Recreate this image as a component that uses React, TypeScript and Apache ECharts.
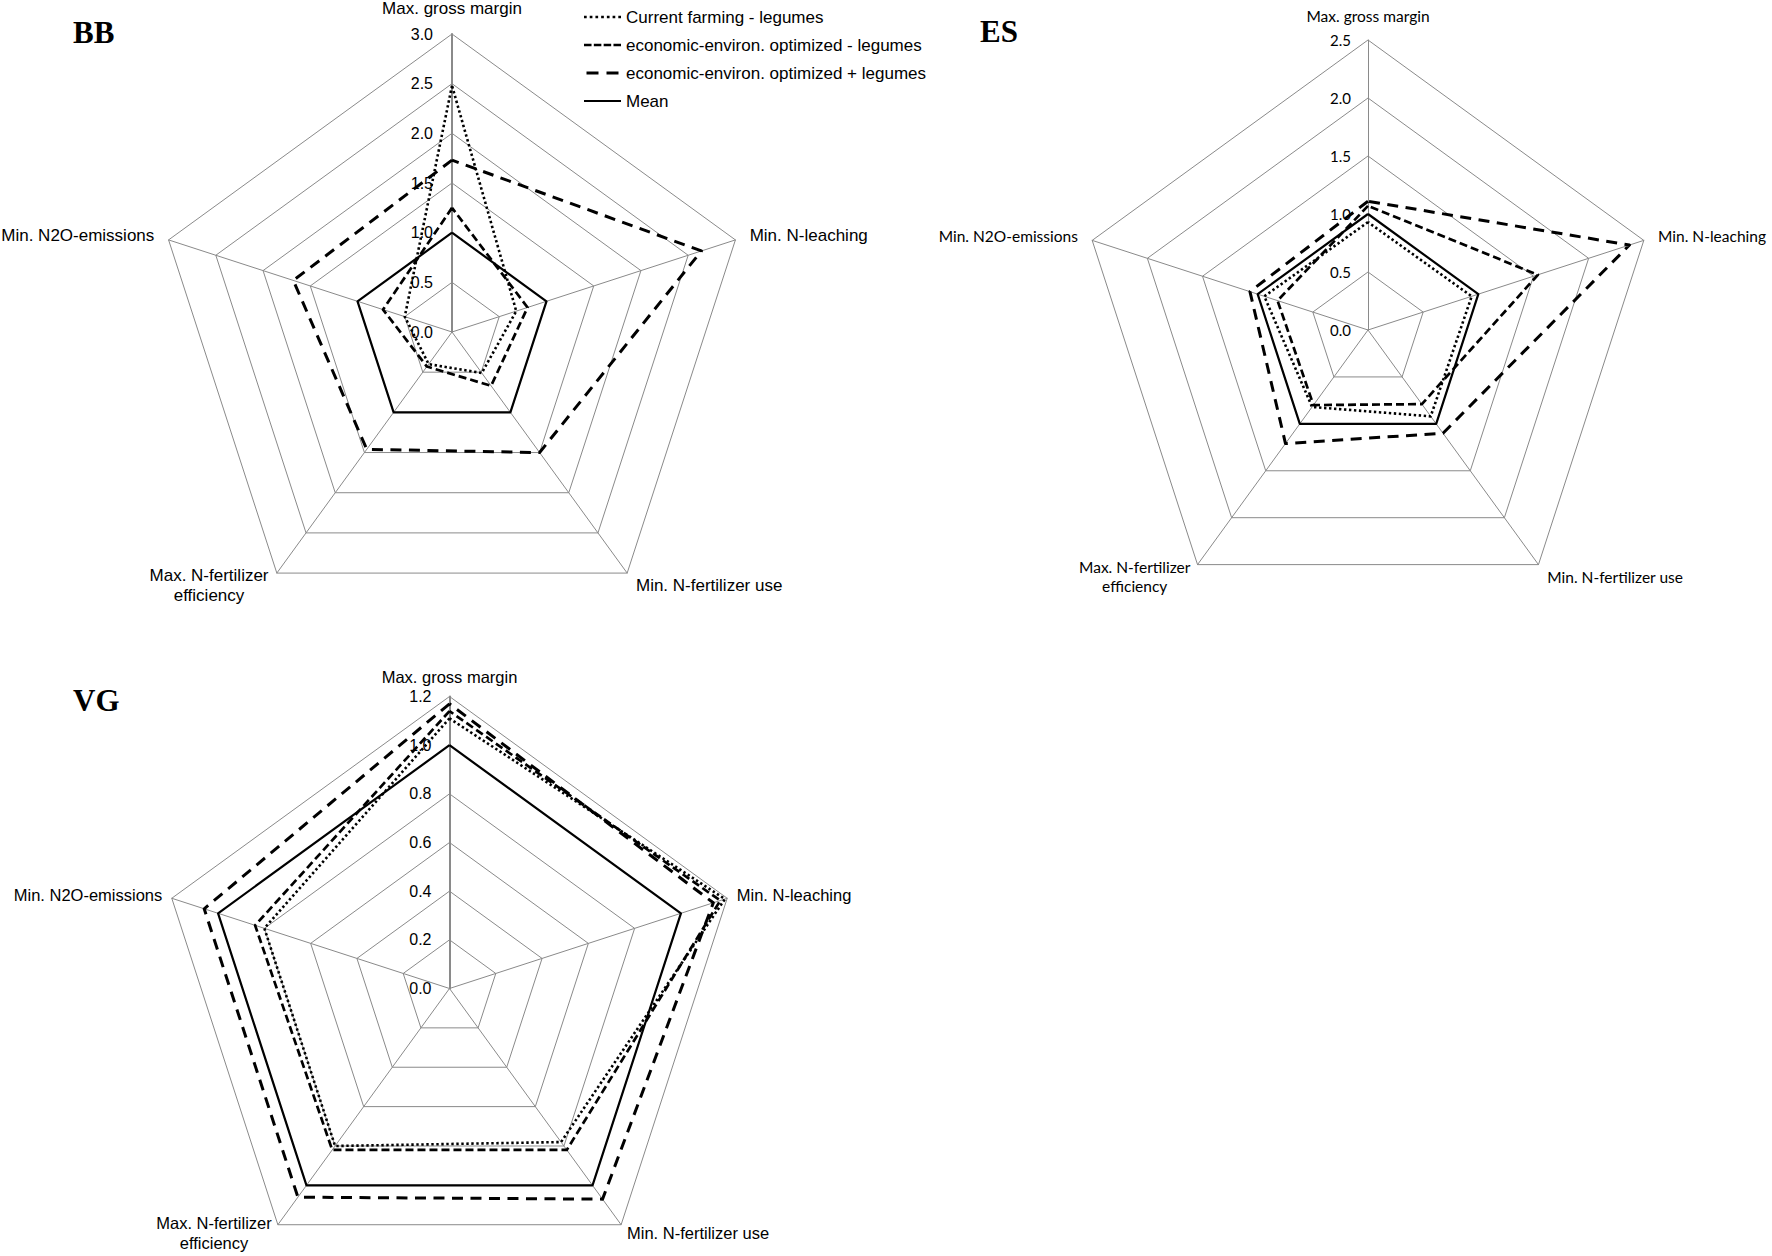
import React, { useEffect, useRef } from 'react';
import * as echarts from 'echarts';

// Axes in the reference's clockwise order, starting at the top
const categories = [
  'Max. gross margin',
  'Min. N-leaching',
  'Min. N-fertilizer use',
  'Max. N-fertilizer\nefficiency',
  'Min. N2O-emissions',
];

const seriesNames = [
  'Current farming - legumes',
  'economic-environ. optimized - legumes',
  'economic-environ. optimized + legumes',
  'Mean',
];

const panelTitles = ['BB', 'ES', 'VG'];

// BB
const bbCurrent = [2.48, 0.68, 0.51, 0.40, 0.50];
const bbOptMinus = [1.25, 0.80, 0.67, 0.43, 0.73];
const bbOptPlus = [1.73, 2.64, 1.50, 1.46, 1.68];
const bbMean = [1.0, 1.0, 1.0, 1.0, 1.0];
const bbTicks = ['0.0', '0.5', '1.0', '1.5', '2.0', '2.5', '3.0'];

// ES
const esCurrent = [0.93, 0.94, 0.92, 0.82, 0.94];
const esOptMinus = [1.07, 1.54, 0.79, 0.80, 0.82];
const esOptPlus = [1.11, 2.37, 1.10, 1.21, 1.07];
const esMean = [1.0, 1.0, 1.0, 1.0, 1.0];
const esTicks = ['0.0', '0.5', '1.0', '1.5', '2.0', '2.5'];

// VG
const vgCurrent = [1.11, 1.19, 0.78, 0.80, 0.80];
const vgOptMinus = [1.14, 1.17, 0.82, 0.82, 0.84];
const vgOptPlus = [1.17, 1.14, 1.07, 1.06, 1.06];
const vgMean = [1.0, 1.0, 1.0, 1.0, 1.0];
const vgTicks = ['0.0', '0.2', '0.4', '0.6', '0.8', '1.0', '1.2'];

// ECharts lays indicators out counter-clockwise; reorder to get the reference's clockwise order
const ORDER = [0, 4, 3, 2, 1];
const reorder = (a: number[]) => ORDER.map((i) => a[i]);

const ARIAL = 'Liberation Sans, Arial, sans-serif';
const CALIBRI = 'Lato, Carlito, Calibri, sans-serif';
const GRID = '#8a8a8a';

const lineStyles = [
  { type: [2.4, 2.6], width: 2.6, cap: 'butt' },
  { type: [8, 4], width: 2.7 },
  { type: [11, 7.5], width: 3 },
  { type: 'solid', width: 2.2 },
];

function dashPath(dash: number, gap: number, total: number, h: number) {
  let d = '';
  for (let x = 0; x < total - 0.01; x += dash + gap) {
    const w = Math.min(dash, total - x);
    d += `M${x} 0h${w}v${h}h${-w}Z`;
  }
  return 'path://' + d;
}
const legendIcons = [
  dashPath(2.5, 2.8, 37, 2.5),
  dashPath(7.5, 2.3, 37, 2.7),
  dashPath(12, 8, 32, 3),
  dashPath(39, 0, 39, 2),
];

interface PanelCfg {
  ticks: string[];
  center: [number, number];
  radius: number;
  font: string;
  nameSize: number;
  labelSize: number;
  labelMargin: number;
  nameGap: number;
  thickTop: boolean;
  effPad: number;
  series: number[][];
}

const panels: PanelCfg[] = [
  {
    ticks: bbTicks, center: [452, 332], radius: 298, font: ARIAL, nameSize: 17, labelSize: 16,
    labelMargin: 19, nameGap: 15, thickTop: true, effPad: 118,
    series: [bbCurrent, bbOptMinus, bbOptPlus, bbMean],
  },
  {
    ticks: esTicks, center: [1368, 330], radius: 290, font: CALIBRI, nameSize: 15.5, labelSize: 15,
    labelMargin: 17, nameGap: 15, thickTop: false, effPad: 108,
    series: [esCurrent, esOptMinus, esOptPlus, esMean],
  },
  {
    ticks: vgTicks, center: [449.5, 988.5], radius: 292, font: ARIAL, nameSize: 16.5, labelSize: 16,
    labelMargin: 18, nameGap: 10, thickTop: true, effPad: 116,
    series: [vgCurrent, vgOptMinus, vgOptPlus, vgMean],
  },
];

const titlePos = [
  { left: 73, top: 16.5 },
  { left: 980, top: 15.5 },
  { left: 73, top: 684.5 },
];

function buildOption() {
  const radar = panels.map((p) => {
    const max = parseFloat(p.ticks[p.ticks.length - 1]);
    const split = p.ticks.length - 1;
    const step = max / split;
    const names = ORDER.map((i) => categories[i]);
    return {
      center: p.center,
      radius: p.radius,
      shape: 'polygon',
      startAngle: 90,
      splitNumber: split,
      axisNameGap: p.nameGap,
      axisName: { color: '#000', fontSize: p.nameSize, fontFamily: p.font, lineHeight: p.nameSize * 1.2 },
      axisLine: { lineStyle: { color: GRID, width: 1 } },
      splitLine: { lineStyle: { color: GRID, width: 1 } },
      splitArea: { show: false },
      axisTick: { show: false },
      axisLabel: {
        show: true,
        color: '#000',
        fontSize: p.labelSize,
        fontFamily: p.font,
        margin: p.labelMargin,
        formatter: (v: number) => p.ticks[Math.round(v / step)] ?? '',
      },
      indicator: names.map((n, k) => {
        const ind: any = { name: n, min: 0, max };
        if (k !== 0) ind.axisLabel = { show: false };
        if (k === 0 && p.thickTop) ind.axisLine = { lineStyle: { width: 2 } };
        if (n.includes('\n')) ind.nameTextStyle = { align: 'center', padding: [0, p.effPad, 0, 0] };
        return ind;
      }),
    };
  });

  const series: any[] = [];
  panels.forEach((p, ri) => {
    p.series.forEach((vals, si) => {
      series.push({
        type: 'radar',
        radarIndex: ri,
        symbol: 'none',
        silent: true,
        z: 2 + si,
        lineStyle: { color: '#000', ...lineStyles[si] },
        itemStyle: { color: '#000' },
        data: [{ value: reorder(vals), name: seriesNames[si] }],
      });
    });
  });

  return {
    animation: false,
    backgroundColor: '#fff',
    title: panelTitles.map((t, i) => ({
      text: t,
      left: titlePos[i].left,
      top: titlePos[i].top,
      padding: 0,
      textStyle: { fontFamily: 'Liberation Serif, Times New Roman, serif', fontWeight: 'bold', fontSize: 31, color: '#000' },
    })),
    legend: {
      orient: 'vertical',
      left: 584,
      top: 8.5,
      padding: 0,
      itemWidth: 37,
      itemHeight: 3,
      itemGap: 11,
      selectedMode: false,
      symbolKeepAspect: true,
      itemStyle: { borderWidth: 0, color: '#000' },
      textStyle: { color: '#000', fontSize: 17, fontFamily: ARIAL, lineHeight: 16 },
      data: seriesNames.map((n, i) => ({ name: n, icon: legendIcons[i] })),
    },
    radar,
    series,
  };
}

export default function App() {
  const ref = useRef<HTMLDivElement>(null);
  useEffect(() => {
    document.body.style.margin = '0';
    if (!ref.current) return;
    const chart = echarts.init(ref.current, undefined, { renderer: 'svg' });
    chart.setOption(buildOption() as any);
    return () => chart.dispose();
  }, []);
  return <div ref={ref} style={{ width: 1772, height: 1256, background: '#fff' }} />;
}
